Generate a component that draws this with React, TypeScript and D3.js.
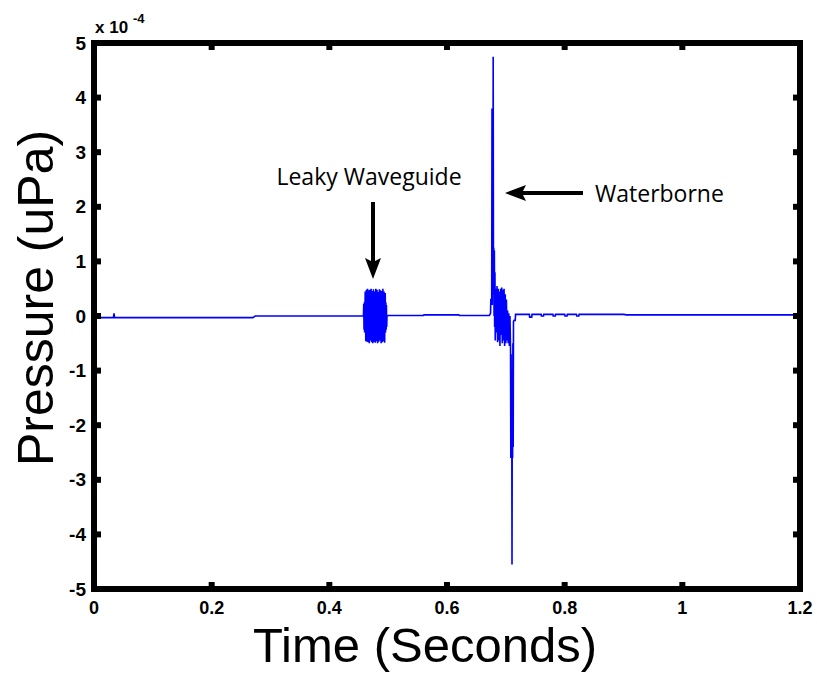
import * as d3 from "d3";

// pressure in units of 1e-4 uPa
const quietTime = [0, 0.008, 0.009, 0.033, 0.034, 0.035, 0.27, 0.274, 0.457];
const quietPressure = [0.01, 0.01, -0.03, -0.03, 0.05, -0.03, -0.03, 0.0, 0.0];

const leakyTime = [
  0.458, 0.4585, 0.459, 0.4595, 0.46, 0.461, 0.462, 0.463, 0.464, 0.465, 0.466, 0.467, 0.468,
  0.469, 0.47, 0.471, 0.472, 0.473, 0.474, 0.475, 0.476, 0.477, 0.478, 0.479, 0.48, 0.481,
  0.482, 0.483, 0.484, 0.485, 0.486, 0.487, 0.488, 0.489, 0.49, 0.491, 0.492, 0.493, 0.494,
  0.495, 0.4955, 0.496, 0.4965, 0.497, 0.4975, 0.498,
];
const leakyPressure = [
  0.0, 0.22, -0.25, 0.25, -0.3, 0.45, -0.46, 0.48, -0.47, 0.5, -0.48, 0.47, -0.5, 0.48, -0.45,
  0.5, -0.48, 0.46, -0.5, 0.49, -0.47, 0.45, -0.49, 0.5, -0.46, 0.48, -0.5, 0.44, -0.47, 0.49,
  -0.45, 0.47, -0.5, 0.46, -0.48, 0.5, -0.46, 0.45, -0.49, 0.42, -0.3, 0.25, -0.25, 0.2, -0.2,
  0.0,
];

const gapTime = [0.5, 0.56, 0.561, 0.62, 0.621, 0.672];
const gapPressure = [0.01, 0.01, 0.02, 0.02, 0.01, 0.01];

const waterTime = [
  0.674, 0.6745, 0.676, 0.6765, 0.677, 0.6775, 0.678, 0.6785, 0.679, 0.6795, 0.68, 0.6805,
  0.681, 0.6815, 0.682, 0.683, 0.684, 0.685, 0.686, 0.687, 0.688, 0.689, 0.69, 0.691, 0.692,
  0.693, 0.694, 0.695, 0.696, 0.697, 0.698, 0.699, 0.7, 0.701, 0.702, 0.703, 0.704, 0.705,
  0.706, 0.707, 0.708, 0.7085, 0.709, 0.7095, 0.71, 0.7105, 0.711, 0.7115, 0.712, 0.7125,
  0.713, 0.714, 0.716,
];
const waterPressure = [
  0.05, 0.3, 0.3, 3.8, 0.2, 3.75, 0.5, 4.75, 0.4, 1.25, 0.0, 1.2, -0.2, 0.8, -0.45, 0.5,
  -0.3, 0.55, -0.48, 0.5, -0.45, 0.45, -0.55, 0.5, -0.35, 0.52, -0.5, 0.48, -0.45, 0.5,
  -0.55, 0.4, -0.5, 0.3, -0.45, 0.1, -0.5, 0.05, -0.55, 0.0, -0.6, -2.6, -0.7, -2.55, -1.0,
  -4.55, -1.2, -2.6, -0.5, -2.4, -0.1, -0.08, -0.08,
];

const tailTime = [
  0.7165, 0.74, 0.7405, 0.744, 0.7445, 0.76, 0.7605, 0.764, 0.7645, 0.78, 0.7805, 0.784,
  0.7845, 0.8, 0.8005, 0.804, 0.8045, 0.82, 0.8205, 0.824, 0.8245, 0.9, 0.905, 1.2,
];
const tailPressure = [
  0.03, 0.03, -0.02, -0.02, 0.03, 0.03, 0.0, 0.0, 0.03, 0.03, 0.0, 0.0, 0.03, 0.03, 0.0, 0.0,
  0.03, 0.03, 0.0, 0.0, 0.03, 0.03, 0.02, 0.02,
];

const xTicks = [0, 0.2, 0.4, 0.6, 0.8, 1, 1.2];
const yTicks = [-5, -4, -3, -2, -1, 0, 1, 2, 3, 4, 5];

const signal: [number, number][] = [
  ...quietTime.map((t, i) => [t, quietPressure[i]] as [number, number]),
  ...leakyTime.map((t, i) => [t, leakyPressure[i]] as [number, number]),
  ...gapTime.map((t, i) => [t, gapPressure[i]] as [number, number]),
  ...waterTime.map((t, i) => [t, waterPressure[i]] as [number, number]),
  ...tailTime.map((t, i) => [t, tailPressure[i]] as [number, number]),
];

const Arrow = ({ x1, y1, x2, y2 }: { x1: number; y1: number; x2: number; y2: number }) => {
  const a = Math.atan2(y2 - y1, x2 - x1);
  const len = 21;
  const half = 8;
  const bx = x2 - len * Math.cos(a);
  const by = y2 - len * Math.sin(a);
  const nx = -Math.sin(a);
  const ny = Math.cos(a);
  const notchX = x2 - (len - 4) * Math.cos(a);
  const notchY = y2 - (len - 4) * Math.sin(a);
  const head = `M${x2},${y2} L${bx + nx * half},${by + ny * half} L${notchX},${notchY} L${bx - nx * half},${by - ny * half} Z`;
  return (
    <g>
      <line x1={x1} y1={y1} x2={notchX} y2={notchY} stroke="#000" strokeWidth={4} />
      <path d={head} fill="#000" />
    </g>
  );
};

export default function App() {
  const width = 817;
  const height = 674;
  const left = 94;
  const right = 800;
  const top = 43;
  const bottom = 589;

  const x = d3.scaleLinear().domain([0, 1.2]).range([left, right]);
  const y = d3.scaleLinear().domain([-5, 5]).range([bottom, top]);

  const line = d3
    .line<[number, number]>()
    .x((d) => x(d[0]))
    .y((d) => y(d[1]));

  const tickLen = 7;
  const tickFont = "'Liberation Sans', Arial, sans-serif";

  return (
    <svg
      width={width}
      height={height}
      style={{ position: "absolute", left: 0, top: 0, background: "#fff" }}
    >
      <defs>
        <clipPath id="plot">
          <rect x={left} y={top} width={right - left} height={bottom - top} />
        </clipPath>
      </defs>

      <path
        d={line(signal) ?? ""}
        fill="none"
        stroke="#0000ff"
        strokeWidth={1.6}
        clipPath="url(#plot)"
      />

      {/* ticks on all sides, pointing in */}
      {xTicks.map((t) => (
        <g key={`xt${t}`}>
          <line x1={x(t)} x2={x(t)} y1={bottom} y2={bottom - tickLen} stroke="#000" strokeWidth={6} />
          <line x1={x(t)} x2={x(t)} y1={top} y2={top + tickLen} stroke="#000" strokeWidth={6} />
          <text
            x={x(t)}
            y={613.5}
            textAnchor="middle"
            fontFamily={tickFont}
            fontWeight="bold"
            fontSize={18}
          >
            {t}
          </text>
        </g>
      ))}
      {yTicks.map((v) => (
        <g key={`yt${v}`}>
          <line x1={left} x2={left + tickLen} y1={y(v)} y2={y(v)} stroke="#000" strokeWidth={6} />
          <line x1={right} x2={right - tickLen} y1={y(v)} y2={y(v)} stroke="#000" strokeWidth={6} />
          <text
            x={86}
            y={y(v)}
            dy="0.35em"
            textAnchor="end"
            fontFamily={tickFont}
            fontWeight="bold"
            fontSize={19}
          >
            {v}
          </text>
        </g>
      ))}

      <rect
        x={left}
        y={top}
        width={right - left}
        height={bottom - top}
        fill="none"
        stroke="#000"
        strokeWidth={6}
      />

      {/* exponent */}
      <text x={95} y={33} fontFamily={tickFont} fontWeight="bold" fontSize={17}>
        x 10
      </text>
      <text x={133} y={23} fontFamily={tickFont} fontWeight="bold" fontSize={13}>
        -4
      </text>

      {/* axis titles */}
      <text
        x={425}
        y={662}
        textAnchor="middle"
        fontFamily="'Liberation Sans', Arial, sans-serif"
        fontSize={49}
      >
        Time (Seconds)
      </text>
      <text
        transform={`translate(53, 298) rotate(-90)`}
        textAnchor="middle"
        fontFamily="'Liberation Sans', Arial, sans-serif"
        fontSize={50}
      >
        Pressure (uPa)
      </text>

      {/* annotations */}
      <text x={369} y={185} textAnchor="middle" fontFamily="'Open Sans', sans-serif" fontSize={23}>
        Leaky Waveguide
      </text>
      <Arrow x1={373} y1={202} x2={373} y2={279} />
      <text x={595} y={202} fontFamily="'Open Sans', sans-serif" fontSize={23}>
        Waterborne
      </text>
      <Arrow x1={583} y1={193} x2={505} y2={193} />
    </svg>
  );
}
